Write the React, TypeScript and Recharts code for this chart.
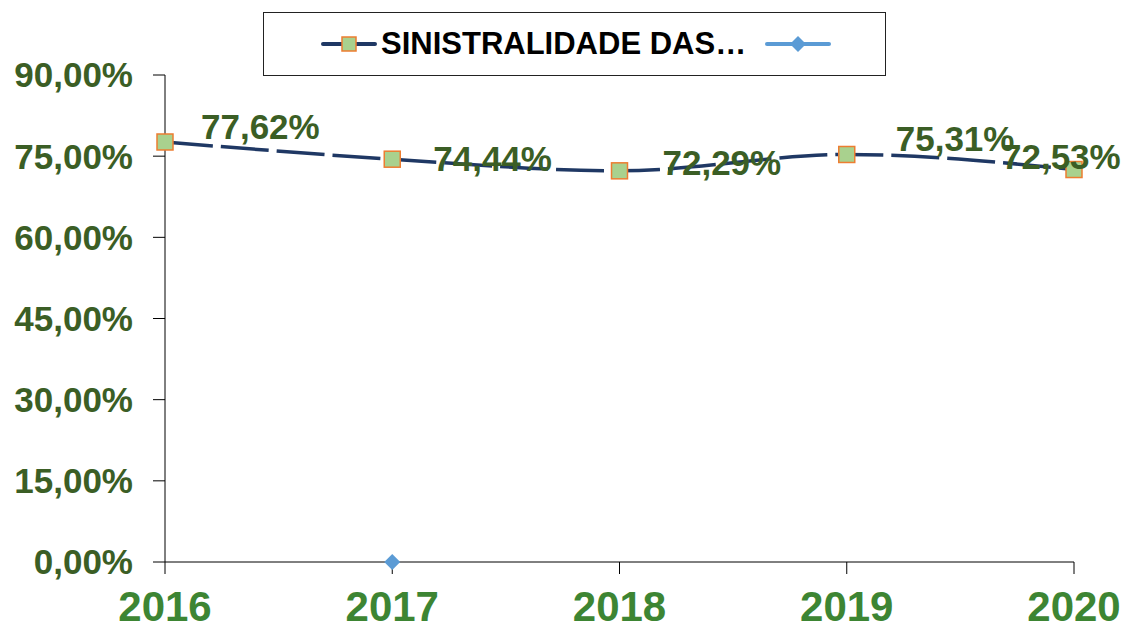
import React from 'react';
import { LineChart, Line, XAxis, YAxis } from 'recharts';

// ================================================
// Sinistralidade 2016-2020 - Line Chart
// ================================================

const YEARS = ['2016', '2017', '2018', '2019', '2020'];
const SINISTRALIDADE = [77.62, 74.44, 72.29, 75.31, 72.53];
const SECOND_SERIES = [null, 0, null, null, null];
const Y_TICKS = [0, 15, 30, 45, 60, 75, 90];

const SERIES_NAME = 'SINISTRALIDADE DAS…';

// manual label placement (Excel-style moved labels): dx from point, dy of text middle
const LABEL_OFFSETS = [
    { dx: 36, dy: -15 },
    { dx: 41, dy: -1 },
    { dx: 43, dy: -8 },
    { dx: 49, dy: -16 },
    { dx: -72, dy: -13 },
];

const data = YEARS.map((year, i) => ({
    year,
    sin: SINISTRALIDADE[i],
    other: SECOND_SERIES[i],
}));

const FONT = '"Liberation Sans", Arial, sans-serif';
const NAVY = '#1F3864';
const LABEL_GREEN = '#3B5E25';
const YEAR_GREEN = '#3D8533';
const BLUE = '#5B9BD5';

const fmt = (v: number) => v.toFixed(2).replace('.', ',') + '%';

const SquareDot = (props: any) => {
    const { cx, cy } = props;
    if (cx == null || cy == null) return null;
    return (
        <rect x={cx - 8} y={cy - 8} width={16} height={16} fill="#A9D18E" stroke="#ED7D31" strokeWidth={1.5} />
    );
};

const DiamondDot = (props: any) => {
    const { cx, cy, value } = props;
    if (cx == null || cy == null || value == null) return null;
    return <path d={`M${cx},${cy - 8}L${cx + 8},${cy}L${cx},${cy + 8}L${cx - 8},${cy}Z`} fill={BLUE} />;
};

const renderLabel = (props: any) => {
    const { x, y, value, index } = props;
    const off = LABEL_OFFSETS[index];
    return (
        <text
            x={x + off.dx}
            y={y + off.dy}
            dominantBaseline="central"
            fill={LABEL_GREEN}
            fontSize={35}
            fontWeight="bold"
            fontFamily={FONT}
        >
            {fmt(value)}
        </text>
    );
};

export default function App() {
    return (
        <div style={{ position: 'absolute', left: 0, top: 0, width: 1134, height: 631, background: '#fff' }}>
            <LineChart width={1134} height={631} data={data} margin={{ top: 75, right: 60, bottom: 0, left: 0 }}>
                <XAxis
                    dataKey="year"
                    height={69}
                    stroke="#000"
                    tickSize={12}
                    tickMargin={17}
                    tick={{ fill: YEAR_GREEN, fontSize: 42, fontWeight: 'bold', fontFamily: FONT }}
                    interval={0}
                />
                <YAxis
                    domain={[0, 90]}
                    ticks={Y_TICKS}
                    width={165}
                    stroke="#000"
                    tickSize={12}
                    tickMargin={20}
                    tickFormatter={fmt}
                    tick={{ fill: LABEL_GREEN, fontSize: 35, fontWeight: 'bold', fontFamily: FONT }}
                />
                <Line
                    dataKey="sin"
                    type="monotone"
                    stroke={NAVY}
                    strokeWidth={3.5}
                    strokeDasharray="48 8"
                    dot={<SquareDot />}
                    activeDot={false}
                    label={renderLabel}
                    isAnimationActive={false}
                />
                <Line
                    dataKey="other"
                    stroke={BLUE}
                    strokeWidth={3}
                    dot={<DiamondDot />}
                    activeDot={false}
                    isAnimationActive={false}
                />
            </LineChart>
            <div
                style={{
                    position: 'absolute',
                    left: 263,
                    top: 12,
                    width: 621,
                    height: 62,
                    border: '1px solid #222',
                    boxSizing: 'content-box',
                    display: 'flex',
                    alignItems: 'center',
                    fontFamily: FONT,
                    fontWeight: 'bold',
                    fontSize: 31,
                    color: '#000',
                }}
            >
                <svg width={56} height={20} style={{ marginLeft: 57 }}>
                    <line x1={2} y1={10} x2={54} y2={10} stroke={NAVY} strokeWidth={4} strokeLinecap="round" />
                    <rect x={21} y={3} width={14} height={14} fill="#A9D18E" stroke="#ED7D31" strokeWidth={1.5} />
                </svg>
                <span style={{ marginLeft: 4, whiteSpace: 'nowrap' }}>{SERIES_NAME}</span>
                <svg width={66} height={20} style={{ marginLeft: 19 }}>
                    <line x1={2} y1={10} x2={64} y2={10} stroke={BLUE} strokeWidth={4} strokeLinecap="round" />
                    <path d="M33,2L41,10L33,18L25,10Z" fill={BLUE} />
                </svg>
            </div>
        </div>
    );
}
